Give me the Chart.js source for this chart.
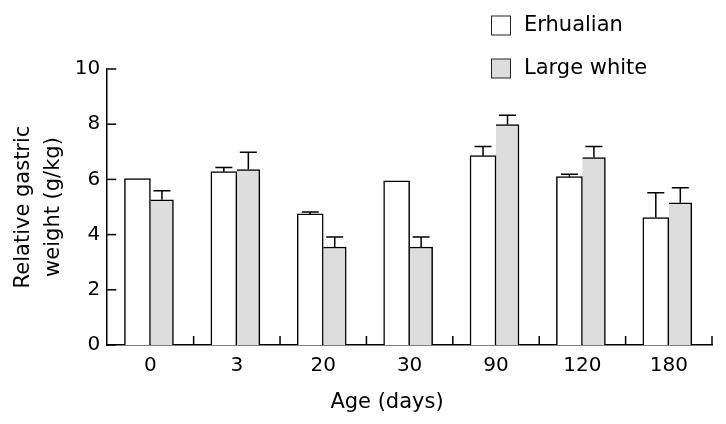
<!DOCTYPE html>
<html>
<head>
<meta charset="utf-8">
<script src="https://cdn.jsdelivr.net/npm/chart.js@4.4.0/dist/chart.umd.min.js"></script>
<style>
html, body { margin: 0; padding: 0; background: #fff; }
#wrap { width: 726px; height: 424px; }
</style>
</head>
<body>
<div id="wrap"><canvas id="myChart"></canvas></div>
<script>
var ages = ['0', '3', '20', '30', '90', '120', '180'];
var erhualian = [6.03, 6.28, 4.75, 5.95, 6.86, 6.10, 4.62];
var erhualianErr = [0, 0.15, 0.07, 0, 0.33, 0.09, 0.90];
var largeWhite = [5.26, 6.36, 3.55, 3.55, 7.99, 6.79, 5.15];
var largeWhiteErr = [0.33, 0.62, 0.36, 0.36, 0.33, 0.40, 0.55];
var yTicks = [0, 2, 4, 6, 8, 10];

var errors = [erhualianErr, largeWhiteErr];
var fontFamily = '"DejaVu Sans", Tahoma, sans-serif';

// error bars, inward ticks, legend and x title
var extras = {
    id: 'extras',
    afterDatasetsDraw: function (chart) {
        var ctx = chart.ctx;
        var x = chart.scales.x;
        var y = chart.scales.y;
        var area = chart.chartArea;
        ctx.save();
        ctx.strokeStyle = '#000';
        ctx.lineWidth = 1.5;

        chart.data.datasets.forEach(function (ds, d) {
            chart.getDatasetMeta(d).data.forEach(function (bar, i) {
                var err = errors[d][i];
                if (!err) return;
                var top = y.getPixelForValue(ds.data[i] + err);
                ctx.beginPath();
                ctx.moveTo(bar.x, bar.y);
                ctx.lineTo(bar.x, top);
                ctx.moveTo(bar.x - 8.5, top);
                ctx.lineTo(bar.x + 8.5, top);
                ctx.stroke();
            });
        });

        yTicks.forEach(function (v) {
            var py = y.getPixelForValue(v);
            ctx.beginPath();
            ctx.moveTo(area.left, py);
            ctx.lineTo(area.left + 9, py);
            ctx.stroke();
        });

        for (var i = 0; i < ages.length; i++) {
            var px = x.getPixelForValue(i + 0.5);
            ctx.beginPath();
            ctx.moveTo(px, area.bottom);
            ctx.lineTo(px, area.bottom - 9);
            ctx.stroke();
        }
        ctx.restore();
    },
    afterDraw: function (chart) {
        var ctx = chart.ctx;
        ctx.save();
        ctx.font = '21px ' + fontFamily;
        ctx.textBaseline = 'middle';
        ctx.fillStyle = '#000';
        chart.data.datasets.forEach(function (ds, d) {
            var cy = 25.5 + d * 43;
            ctx.fillStyle = ds.backgroundColor;
            ctx.fillRect(491, cy - 9.5, 19, 19);
            ctx.strokeStyle = '#222';
            ctx.lineWidth = 1;
            ctx.strokeRect(491.5, cy - 9.5, 19, 19);
            ctx.fillStyle = '#000';
            ctx.fillText(ds.label, 524, cy);
        });
        ctx.textAlign = 'center';
        ctx.fillText('Age (days)', 387, 403);
        ctx.restore();
    }
};

var ctx = document.getElementById('myChart').getContext('2d');
var myChart = new Chart(ctx, {
    type: 'bar',
    data: {
        labels: ages,
        datasets: [{
            label: 'Erhualian',
            data: erhualian,
            backgroundColor: '#ffffff',
            borderColor: '#000',
            borderWidth: { top: 1.5, left: 1.5, right: 1.5, bottom: 0 },
            barThickness: 26
        }, {
            label: 'Large white',
            data: largeWhite,
            backgroundColor: '#dddddd',
            borderColor: '#000',
            borderWidth: { top: 1.5, left: 0, right: 1.5, bottom: 0 },
            barThickness: 23
        }]
    },
    options: {
        responsive: true,
        maintainAspectRatio: false,
        animation: false,
        layout: {
            padding: { left: 0, right: 14, top: 69, bottom: 37 }
        },
        plugins: {
            legend: { display: false },
            tooltip: { enabled: false }
        },
        scales: {
            x: {
                grid: { display: false, drawTicks: false },
                border: { display: true, color: '#000', width: 1.5 },
                ticks: {
                    color: '#000',
                    padding: 9,
                    font: { family: fontFamily, size: 20 }
                }
            },
            y: {
                min: 0,
                max: 10,
                afterBuildTicks: function (scale) {
                    scale.ticks = yTicks.map(function (v) { return { value: v }; });
                },
                grid: { display: false, drawTicks: false },
                border: { display: true, color: '#000', width: 1.5 },
                ticks: {
                    color: '#000',
                    padding: 7,
                    font: { family: fontFamily, size: 20 }
                },
                title: {
                    display: true,
                    text: ['Relative gastric', 'weight (g/kg)'],
                    color: '#000',
                    padding: { top: 9, bottom: 0 },
                    font: { family: fontFamily, size: 21, lineHeight: 1.4 }
                }
            }
        }
    },
    plugins: [extras]
});
</script>
</body>
</html>
